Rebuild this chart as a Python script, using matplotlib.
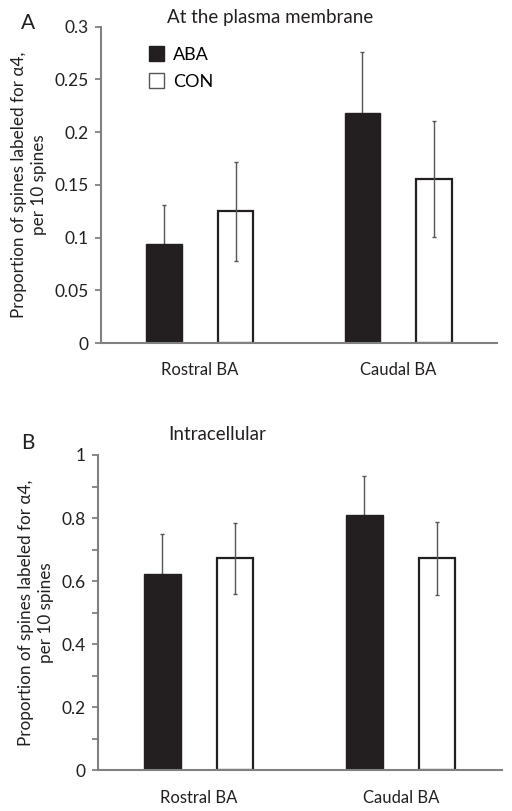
import numpy as np
import matplotlib.pyplot as plt
from matplotlib.patches import Patch

plt.rcParams['font.family'] = ['Lato', 'DejaVu Sans']

categories = ['Rostral BA', 'Caudal BA']
groups = ['ABA', 'CON']

# panel A: at the plasma membrane
a_aba = [0.094, 0.218]
a_aba_err = [0.037, 0.058]
a_con = [0.125, 0.156]
a_con_err = [0.047, 0.055]

# panel B: intracellular
b_aba = [0.624, 0.811]
b_aba_err = [0.124, 0.121]
b_con = [0.672, 0.672]
b_con_err = [0.113, 0.116]

ylab = 'Proportion of spines labeled for \u03b14,\nper 10 spines'
axis_col = '#808080'
bar_black = '#231f20'

fig = plt.figure(figsize=(5.12, 8.11), dpi=100)
axA = fig.add_axes([0.197, 0.577, 0.774, 0.390])
axB = fig.add_axes([0.191, 0.050, 0.789, 0.389])

x = np.arange(len(categories))
off = 0.18
w = 0.18


def draw(ax, aba, aba_err, con, con_err, ymax, major, minor):
    ax.bar(x - off, aba, w, color=bar_black, edgecolor=bar_black, zorder=2)
    ax.errorbar(x - off, aba, yerr=aba_err, fmt='none', ecolor='#555555',
                elinewidth=1, capsize=1.5, capthick=1, zorder=1)
    ax.bar(x + off, con, w, color='white', edgecolor=bar_black, linewidth=1.6, zorder=2)
    ax.errorbar(x + off, con, yerr=con_err, fmt='none', ecolor='#555555',
                elinewidth=1, capsize=1.5, capthick=1, zorder=3)
    ax.set_xlim(-0.5, 1.5)
    ax.set_ylim(0, ymax)
    ax.set_yticks(major)
    ax.set_yticks(minor, minor=True)
    ax.set_xticks(x)
    ax.set_xticklabels(categories, fontsize=12, color='#231f20')
    ax.tick_params(axis='x', length=0, pad=14)
    ax.tick_params(axis='y', which='both', direction='out', length=4, width=1.3,
                   color=axis_col, labelsize=12.5, labelcolor='#231f20', pad=5)
    for s in ['top', 'right']:
        ax.spines[s].set_visible(False)
    for s in ['left', 'bottom']:
        ax.spines[s].set_color(axis_col)
        ax.spines[s].set_linewidth(1.5)
    ax.set_ylabel(ylab, fontsize=12.3, color='#231f20', labelpad=5, linespacing=1.3)


draw(axA, a_aba, a_aba_err, a_con, a_con_err, 0.3,
     [0, 0.05, 0.1, 0.15, 0.2, 0.25, 0.3], [])
axA.set_yticklabels(['0', '0.05', '0.1', '0.15', '0.2', '0.25', '0.3'])
draw(axB, b_aba, b_aba_err, b_con, b_con_err, 1.0,
     [0, 0.2, 0.4, 0.6, 0.8, 1.0], [0.1, 0.3, 0.5, 0.7, 0.9])
axB.set_yticklabels(['0', '0.2', '0.4', '0.6', '0.8', '1'])

handles = [Patch(facecolor=bar_black, edgecolor=bar_black),
           Patch(facecolor='white', edgecolor='#555555', linewidth=1)]
axA.legend(handles, groups, loc='upper left', bbox_to_anchor=(0.08, 0.99),
           frameon=False, fontsize=13, handlelength=0.85, handleheight=0.85,
           handletextpad=0.5, labelspacing=0.6)

fig.text(270 / 512, 1 - 17 / 811, 'At the plasma membrane', ha='center', va='center',
         fontsize=13.5, color='#231f20')
fig.text(28 / 512, 1 - 23 / 811, 'A', ha='center', va='center', fontsize=15, color='#231f20')
fig.text(217 / 512, 1 - 434 / 811, 'Intracellular', ha='center', va='center',
         fontsize=13.5, color='#231f20')
fig.text(28 / 512, 1 - 443 / 811, 'B', ha='center', va='center', fontsize=15, color='#231f20')

plt.savefig('out.png', dpi=100)
